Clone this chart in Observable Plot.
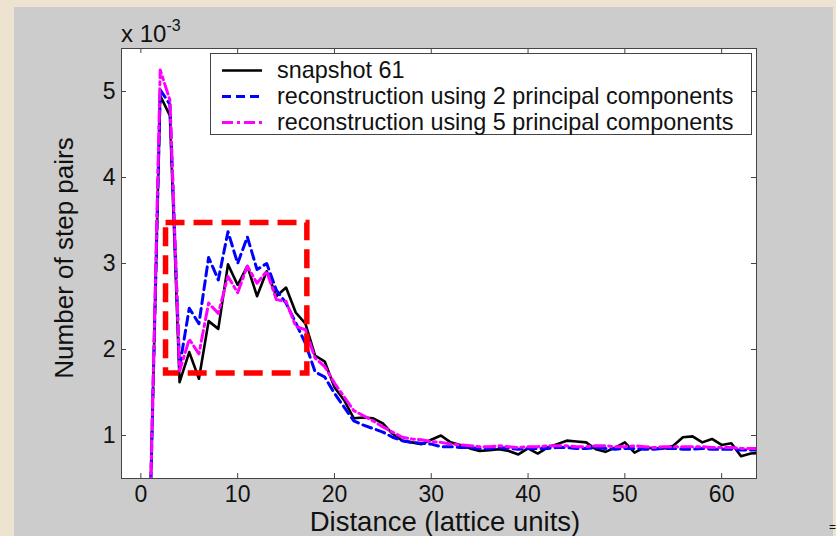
<!DOCTYPE html>
<html><head><meta charset="utf-8">
<script src="https://cdn.jsdelivr.net/npm/d3@7"></script>
<script src="https://cdn.jsdelivr.net/npm/@observablehq/plot@0.6"></script>
<style>
html,body{margin:0;padding:0;background:#EEE2D1;width:836px;height:536px;overflow:hidden}
#panel{position:absolute;left:14px;top:7px;width:819px;height:529px;background:#CCCCCC}
#chart{position:absolute;left:0;top:0}
svg text{font-family:"Liberation Sans",Arial,sans-serif}
</style></head><body><div id="panel"></div><div id="chart"></div>
<script>
// distance in lattice units
const distance = d3.range(1, 65);
// values in units of 10^-3
const snapshot61 = [0.35,4.95,4.72,1.62,1.97,1.66,2.33,2.24,2.99,2.75,2.97,2.62,2.91,2.62,2.72,2.43,2.3,1.93,1.86,1.56,
  1.41,1.2,1.21,1.2,1.14,1.02,0.94,0.92,0.9,0.95,1.0,0.92,0.89,0.85,0.82,0.83,0.84,0.82,0.78,0.85,
  0.79,0.86,0.9,0.94,0.93,0.92,0.84,0.81,0.86,0.92,0.8,0.86,0.85,0.85,0.88,0.98,0.99,0.92,0.96,0.89,
  0.91,0.76,0.79,0.8];
const recon2PC = [0.3,5.02,4.85,1.8,2.48,2.3,3.07,2.81,3.37,3.0,3.31,2.93,3.0,2.69,2.54,2.31,2.07,1.74,1.68,1.49,
  1.33,1.17,1.12,1.08,1.04,0.98,0.94,0.92,0.91,0.9,0.87,0.87,0.86,0.86,0.85,0.85,0.86,0.85,0.84,0.85,
  0.85,0.85,0.86,0.86,0.85,0.85,0.86,0.85,0.84,0.85,0.85,0.84,0.84,0.85,0.85,0.84,0.84,0.85,0.84,0.84,
  0.84,0.83,0.83,0.83];
const recon5PC = [0.3,5.25,4.9,1.75,2.12,1.95,2.54,2.42,2.85,2.66,2.97,2.77,2.91,2.58,2.56,2.27,2.23,1.9,1.8,1.61,
  1.45,1.29,1.23,1.17,1.1,1.04,0.98,0.96,0.95,0.93,0.92,0.9,0.89,0.88,0.87,0.87,0.88,0.87,0.86,0.87,
  0.87,0.88,0.88,0.88,0.87,0.87,0.88,0.88,0.87,0.87,0.88,0.87,0.86,0.87,0.87,0.87,0.87,0.87,0.86,0.86,
  0.86,0.85,0.85,0.85];
const seriesNames = ["snapshot 61","reconstruction using 2 principal components","reconstruction using 5 principal components"];
const xTicks = [0,10,20,30,40,50,60];
const yTicks = [1,2,3,4,5];
const boxX = [2.6, 17.2];
const boxY = [1.72, 3.47];

const rows = (vals) => distance.map((d, i) => ({d, v: vals[i]}));
const W = 836, H = 536, mL = 121, mR = 80, mT = 48, mB = 58;
const pw = W - mL - mR, ph = H - mT - mB;
const tick = 5;
const fontTick = 23;

const chart = Plot.plot({
  width: W, height: H,
  marginLeft: mL, marginRight: mR, marginTop: mT, marginBottom: mB,
  style: {background: "transparent", fontFamily: '"Liberation Sans", Arial, sans-serif', color: "#111"},
  x: {domain: [-2, 63.6]},
  y: {domain: [0.5, 5.5]},
  marks: [
    Plot.frame({fill: "white"}),
    Plot.line(rows(snapshot61), {x: "d", y: "v", stroke: "black", strokeWidth: 2.6, clip: true}),
    Plot.line(rows(recon2PC), {x: "d", y: "v", stroke: "#0000FF", strokeWidth: 3, strokeDasharray: "9,5", clip: true}),
    Plot.line(rows(recon5PC), {x: "d", y: "v", stroke: "#FF00FF", strokeWidth: 3, strokeDasharray: "11,4,3,4", clip: true}),
    Plot.rect([{x1: boxX[0], x2: boxX[1], y1: boxY[0], y2: boxY[1]}], {x1: "x1", x2: "x2", y1: "y1", y2: "y2", fill: "none", stroke: "#FF0000", strokeWidth: 5.5, strokeDasharray: "19,9"}),
    Plot.tickX(xTicks, {x: d => d, insetTop: ph - tick, stroke: "#444"}),
    Plot.tickX(xTicks, {x: d => d, insetBottom: ph - tick, stroke: "#444"}),
    Plot.tickY(yTicks, {y: d => d, insetRight: pw - tick, stroke: "#444"}),
    Plot.tickY(yTicks, {y: d => d, insetLeft: pw - tick, stroke: "#444"}),
    Plot.axisX(xTicks, {anchor: "bottom", tickSize: 0, tickPadding: 7, fontSize: fontTick, label: null, tickFormat: d => String(d)}),
    Plot.axisY(yTicks, {anchor: "left", tickSize: 0, tickPadding: 6, fontSize: fontTick, label: null, tickFormat: d => String(d)}),
    Plot.frame({stroke: "#444", strokeWidth: 1})
  ]
});
document.getElementById("chart").appendChild(chart);

const svg = d3.select(chart);
// axis labels
svg.append("text").attr("x", 445).attr("y", 531).attr("text-anchor", "middle")
  .attr("font-size", 27.5).attr("fill", "#111").text("Distance (lattice units)");
svg.append("text").attr("transform", "translate(73,258) rotate(-90)").attr("text-anchor", "middle")
  .attr("font-size", 26).attr("fill", "#111").text("Number of step pairs");
const ex = svg.append("text").attr("x", 121).attr("y", 42).attr("font-size", 24)
  .attr("text-anchor", "start").attr("fill", "#111");
ex.append("tspan").text("x 10");
ex.append("tspan").attr("dy", -11).attr("font-size", 16).text("-3");

// legend
const lg = svg.append("g");
lg.append("rect").attr("x", 210.5).attr("y", 53.5).attr("width", 541).attr("height", 81)
  .attr("fill", "white").attr("stroke", "#444");
const styles = [
  {stroke: "black", dash: null, w: 2.6},
  {stroke: "#0000FF", dash: "9,5", w: 3},
  {stroke: "#FF00FF", dash: "11,4,3,4", w: 3}
];
seriesNames.forEach((name, i) => {
  const cy = 70.5 + i * 26;
  lg.append("line").attr("x1", 222).attr("x2", 262).attr("y1", cy).attr("y2", cy)
    .attr("stroke", styles[i].stroke).attr("stroke-width", styles[i].w)
    .attr("stroke-dasharray", styles[i].dash);
  lg.append("text").attr("x", 277).attr("y", cy + 7.5).attr("font-size", 23.4)
    .attr("text-anchor", "start").attr("fill", "#111").text(name);
});
// small edge glyph at bottom right
svg.append("text").attr("x", 829).attr("y", 531).attr("font-size", 12)
  .attr("text-anchor", "start").attr("fill", "#111").text("=");
</script></body></html>
